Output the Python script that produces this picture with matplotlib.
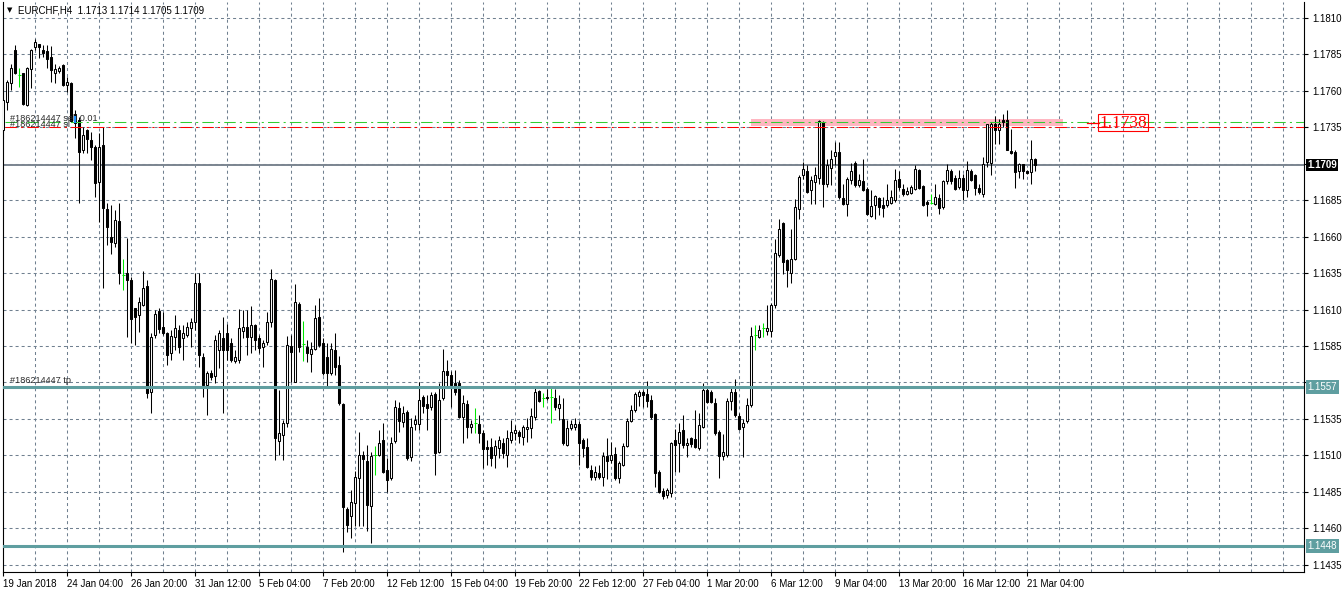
import matplotlib.pyplot as plt
from matplotlib.patches import Rectangle

plt.rcParams['font.family'] = ['Liberation Sans', 'DejaVu Sans']

# EURCHF H4 candles, bar 0 = 19 Jan 2018 12:00
opens = [
    1.17330, 1.17525, 1.17656, 1.17880, 1.17708, 1.17720, 1.17502, 1.17747, 1.17898, 1.17921,
    1.17884, 1.17875, 1.17834, 1.17724, 1.17738, 1.17777, 1.17640, 1.17651, 1.17440, 1.17399,
    1.17198, 1.17331, 1.17262, 1.17212, 1.16976, 1.17228, 1.16789, 1.16599, 1.16560, 1.16706,
    1.16336, 1.16350, 1.16301, 1.16109, 1.16061, 1.16130, 1.16260, 1.15537, 1.15926, 1.16090,
    1.15981, 1.15940, 1.15800, 1.15910, 1.15960, 1.15903, 1.15926, 1.15972, 1.16017, 1.16280,
    1.15777, 1.15583, 1.15663, 1.15645, 1.15823, 1.15905, 1.15942, 1.15871, 1.15750, 1.15754,
    1.15955, 1.15979, 1.15910, 1.15994, 1.15903, 1.15846, 1.15880, 1.16017, 1.16303, 1.15201,
    1.15240, 1.15320, 1.15850, 1.15606, 1.16138, 1.15862, 1.15846, 1.15793, 1.15830, 1.16047,
    1.15869, 1.15777, 1.15667, 1.15823, 1.15720, 1.15453, 1.14730, 1.14681, 1.14772, 1.14944,
    1.15103, 1.15058, 1.14754, 1.15103, 1.15103, 1.15206, 1.15001, 1.14944, 1.15202, 1.15423,
    1.15332, 1.15400, 1.15090, 1.15316, 1.15316, 1.15503, 1.15453, 1.15434, 1.15521, 1.15126,
    1.15492, 1.15681, 1.15651, 1.15599, 1.15599, 1.15361, 1.15453, 1.15298, 1.15320, 1.15313,
    1.15252, 1.15156, 1.15160, 1.15103, 1.15149, 1.15188, 1.15103, 1.15206, 1.15256, 1.15263,
    1.15229, 1.15279, 1.15286, 1.15361, 1.15542, 1.15492, 1.15503, 1.15503, 1.15492, 1.15423,
    1.15348, 1.15172, 1.15286, 1.15298, 1.15316, 1.15206, 1.15160, 1.15001, 1.14950, 1.14982,
    1.14955, 1.15097, 1.15069, 1.15110, 1.14944, 1.15035, 1.15165, 1.15339, 1.15412, 1.15508,
    1.15537, 1.15521, 1.15480, 1.15384, 1.14989, 1.14859, 1.14830, 1.14841, 1.15206, 1.15183,
    1.15275, 1.15172, 1.15218, 1.15211, 1.15149, 1.15298, 1.15549, 1.15537, 1.15462, 1.15263,
    1.15097, 1.15103, 1.15476, 1.15537, 1.15371, 1.15293, 1.15339, 1.15446, 1.15925, 1.15914,
    1.15971, 1.15955, 1.15955, 1.16131, 1.16473, 1.16695, 1.16439, 1.16348, 1.16450, 1.16793,
    1.17021, 1.17051, 1.16918, 1.16976, 1.17005, 1.17386, 1.16960, 1.17074, 1.17151, 1.17181,
    1.16868, 1.16827, 1.16987, 1.17106, 1.16953, 1.16982, 1.16930, 1.16740, 1.16816, 1.16868,
    1.16816, 1.16816, 1.16832, 1.16850, 1.16998, 1.16930, 1.16896, 1.16900, 1.16930, 1.17055,
    1.16946, 1.16836, 1.16832, 1.16827, 1.16868, 1.16804, 1.16982, 1.17051, 1.17005, 1.16941,
    1.17005, 1.16923, 1.17051, 1.17021, 1.16937, 1.16891, 1.17113, 1.17106, 1.17371, 1.17334,
    1.17398, 1.17402, 1.17188, 1.17181, 1.17051, 1.17097, 1.17051, 1.17044, 1.17130,
]
highs = [
    1.17628, 1.17678, 1.17788, 1.17914, 1.17754, 1.17724, 1.17761, 1.17891, 1.17953, 1.17925,
    1.17914, 1.17914, 1.17907, 1.17788, 1.17770, 1.17788, 1.17697, 1.17662, 1.17470, 1.17422,
    1.17353, 1.17342, 1.17319, 1.17228, 1.17308, 1.17353, 1.16828, 1.16817, 1.16782, 1.16832,
    1.16444, 1.16590, 1.16324, 1.16111, 1.16187, 1.16366, 1.16300, 1.15940, 1.16097, 1.16111,
    1.16086, 1.15948, 1.15960, 1.16063, 1.15994, 1.15994, 1.16017, 1.16040, 1.16353, 1.16353,
    1.15800, 1.15681, 1.15688, 1.15926, 1.15960, 1.16051, 1.16000, 1.15905, 1.15823, 1.16104,
    1.16097, 1.16097, 1.16125, 1.16001, 1.15926, 1.15892, 1.16086, 1.16376, 1.16308, 1.15549,
    1.15343, 1.15919, 1.15926, 1.16273, 1.16154, 1.16024, 1.15892, 1.15880, 1.16132, 1.16177,
    1.15903, 1.15869, 1.15873, 1.15937, 1.15782, 1.15457, 1.14748, 1.14864, 1.14990, 1.15263,
    1.15133, 1.15172, 1.15126, 1.15165, 1.15275, 1.15320, 1.15081, 1.15229, 1.15480, 1.15469,
    1.15439, 1.15412, 1.15355, 1.15377, 1.15606, 1.15514, 1.15514, 1.15537, 1.15537, 1.15594,
    1.15827, 1.15754, 1.15681, 1.15686, 1.15617, 1.15514, 1.15480, 1.15343, 1.15423, 1.15377,
    1.15275, 1.15206, 1.15218, 1.15206, 1.15234, 1.15218, 1.15275, 1.15343, 1.15309, 1.15275,
    1.15309, 1.15355, 1.15423, 1.15571, 1.15549, 1.15526, 1.15553, 1.15560, 1.15553, 1.15514,
    1.15492, 1.15343, 1.15343, 1.15355, 1.15339, 1.15218, 1.15218, 1.15035, 1.15024, 1.15035,
    1.15126, 1.15218, 1.15195, 1.15160, 1.15058, 1.15183, 1.15355, 1.15446, 1.15537, 1.15549,
    1.15549, 1.15612, 1.15514, 1.15393, 1.15001, 1.14875, 1.14875, 1.15195, 1.15280, 1.15320,
    1.15377, 1.15218, 1.15229, 1.15412, 1.15389, 1.15599, 1.15571, 1.15549, 1.15492, 1.15275,
    1.15247, 1.15492, 1.15576, 1.15622, 1.15389, 1.15348, 1.15492, 1.15978, 1.15994, 1.15994,
    1.16005, 1.16131, 1.16142, 1.16581, 1.16724, 1.16702, 1.16450, 1.16656, 1.16861, 1.17021,
    1.17113, 1.17090, 1.17014, 1.17078, 1.17402, 1.17393, 1.17135, 1.17192, 1.17249, 1.17249,
    1.16964, 1.17010, 1.17106, 1.17119, 1.17028, 1.17135, 1.16941, 1.16918, 1.16884, 1.16873,
    1.16873, 1.16960, 1.16918, 1.17067, 1.17051, 1.16960, 1.16941, 1.16953, 1.17090, 1.17067,
    1.16953, 1.16850, 1.16891, 1.16960, 1.16896, 1.16992, 1.17097, 1.17067, 1.17021, 1.17055,
    1.17033, 1.17119, 1.17067, 1.17033, 1.16964, 1.17147, 1.17375, 1.17386, 1.17425, 1.17409,
    1.17439, 1.17466, 1.17340, 1.17192, 1.17106, 1.17101, 1.17055, 1.17266, 1.17140,
]
lows = [
    1.17280, 1.17468, 1.17605, 1.17715, 1.17624, 1.17502, 1.17495, 1.17617, 1.17884, 1.17823,
    1.17834, 1.17754, 1.17662, 1.17651, 1.17720, 1.17633, 1.17595, 1.17388, 1.17280, 1.16828,
    1.17171, 1.17171, 1.17124, 1.16873, 1.16701, 1.16251, 1.16545, 1.16484, 1.16530, 1.16276,
    1.16237, 1.15913, 1.15868, 1.15856, 1.15947, 1.16123, 1.15492, 1.15391, 1.15905, 1.15942,
    1.15926, 1.15720, 1.15754, 1.15823, 1.15802, 1.15754, 1.15914, 1.15846, 1.15960, 1.15708,
    1.15503, 1.15375, 1.15617, 1.15595, 1.15699, 1.15394, 1.15754, 1.15740, 1.15736, 1.15734,
    1.15905, 1.15789, 1.15802, 1.15823, 1.15802, 1.15708, 1.15857, 1.15983, 1.15068, 1.15103,
    1.15068, 1.15297, 1.15606, 1.15600, 1.15811, 1.15750, 1.15743, 1.15674, 1.15823, 1.15846,
    1.15654, 1.15560, 1.15651, 1.15651, 1.15443, 1.14440, 1.14577, 1.14533, 1.14613, 1.14613,
    1.14613, 1.14578, 1.14499, 1.14966, 1.15097, 1.14978, 1.14852, 1.14932, 1.15188, 1.15263,
    1.15298, 1.15065, 1.15058, 1.15275, 1.15275, 1.15389, 1.15275, 1.15412, 1.14966, 1.15115,
    1.15480, 1.15560, 1.15434, 1.15514, 1.15355, 1.15183, 1.15218, 1.15252, 1.15252, 1.15183,
    1.15012, 1.15035, 1.15024, 1.15012, 1.15081, 1.15081, 1.15019, 1.15183, 1.15206, 1.15188,
    1.15172, 1.15195, 1.15218, 1.15343, 1.15469, 1.15430, 1.15480, 1.15320, 1.15412, 1.15343,
    1.15172, 1.15165, 1.15275, 1.15275, 1.15035, 1.15092, 1.15012, 1.14932, 1.14932, 1.14937,
    1.14887, 1.14937, 1.15046, 1.14928, 1.14909, 1.15024, 1.15160, 1.15332, 1.15400, 1.15439,
    1.15430, 1.15430, 1.15348, 1.14882, 1.14841, 1.14800, 1.14807, 1.14814, 1.14989, 1.14989,
    1.15149, 1.15092, 1.15160, 1.15149, 1.15138, 1.15286, 1.15457, 1.15457, 1.15240, 1.14944,
    1.15065, 1.15092, 1.15412, 1.15361, 1.15275, 1.15092, 1.15320, 1.15434, 1.15823, 1.15903,
    1.15909, 1.15925, 1.15914, 1.16108, 1.16462, 1.16343, 1.16256, 1.16284, 1.16439, 1.16724,
    1.16998, 1.16900, 1.16827, 1.16827, 1.16960, 1.16804, 1.16941, 1.16953, 1.17090, 1.16861,
    1.16816, 1.16740, 1.16960, 1.16941, 1.16941, 1.16914, 1.16747, 1.16736, 1.16724, 1.16747,
    1.16736, 1.16804, 1.16827, 1.16839, 1.16923, 1.16877, 1.16884, 1.16896, 1.16918, 1.16930,
    1.16809, 1.16740, 1.16823, 1.16816, 1.16759, 1.16793, 1.16964, 1.16964, 1.16923, 1.16930,
    1.16850, 1.16873, 1.16982, 1.16884, 1.16896, 1.16873, 1.17078, 1.17021, 1.17238, 1.17238,
    1.17352, 1.17192, 1.17170, 1.16937, 1.17005, 1.16998, 1.17033, 1.16964, 1.17050,
]
closes = [
    1.17537, 1.17662, 1.17754, 1.17720, 1.17708, 1.17510, 1.17754, 1.17884, 1.17937, 1.17898,
    1.17857, 1.17816, 1.17743, 1.17747, 1.17754, 1.17640, 1.17658, 1.17395, 1.17380, 1.17182,
    1.17296, 1.17267, 1.17216, 1.16965, 1.17216, 1.16798, 1.16667, 1.16565, 1.16718, 1.16350,
    1.16336, 1.16306, 1.16038, 1.16048, 1.16153, 1.16251, 1.15526, 1.15914, 1.16070, 1.15965,
    1.15940, 1.15789, 1.15919, 1.15972, 1.15846, 1.15937, 1.15979, 1.16017, 1.16280, 1.15789,
    1.15583, 1.15667, 1.15640, 1.15892, 1.15937, 1.15823, 1.15823, 1.15754, 1.15775, 1.15972,
    1.15983, 1.15910, 1.15994, 1.15892, 1.15835, 1.15869, 1.16017, 1.16308, 1.15217, 1.15252,
    1.15320, 1.15857, 1.15811, 1.16150, 1.15846, 1.15862, 1.15800, 1.15830, 1.16040, 1.15857,
    1.15667, 1.15663, 1.15828, 1.15708, 1.15457, 1.14744, 1.14623, 1.14777, 1.14955, 1.15103,
    1.15074, 1.14761, 1.15097, 1.15103, 1.15188, 1.14989, 1.14932, 1.15188, 1.15430, 1.15339,
    1.15393, 1.15081, 1.15298, 1.15343, 1.15480, 1.15439, 1.15423, 1.15514, 1.15119, 1.15480,
    1.15681, 1.15651, 1.15583, 1.15537, 1.15361, 1.15457, 1.15298, 1.15316, 1.15320, 1.15256,
    1.15142, 1.15142, 1.15081, 1.15165, 1.15206, 1.15119, 1.15218, 1.15263, 1.15275, 1.15234,
    1.15298, 1.15298, 1.15371, 1.15537, 1.15476, 1.15492, 1.15492, 1.15503, 1.15430, 1.15453,
    1.15183, 1.15286, 1.15316, 1.15316, 1.15188, 1.15149, 1.15019, 1.14955, 1.14989, 1.14950,
    1.15097, 1.15058, 1.15103, 1.14944, 1.15046, 1.15165, 1.15339, 1.15412, 1.15521, 1.15537,
    1.15514, 1.15476, 1.15361, 1.14982, 1.14852, 1.14818, 1.14864, 1.15188, 1.15172, 1.15263,
    1.15172, 1.15188, 1.15179, 1.15156, 1.15309, 1.15549, 1.15469, 1.15469, 1.15252, 1.15097,
    1.15126, 1.15476, 1.15537, 1.15377, 1.15280, 1.15320, 1.15446, 1.15918, 1.15925, 1.15960,
    1.15971, 1.15971, 1.16131, 1.16485, 1.16656, 1.16428, 1.16371, 1.16450, 1.16804, 1.17010,
    1.17067, 1.16907, 1.16987, 1.17021, 1.17393, 1.16960, 1.17090, 1.17135, 1.17181, 1.16873,
    1.16823, 1.16998, 1.17051, 1.16953, 1.16987, 1.16918, 1.16759, 1.16809, 1.16877, 1.16804,
    1.16800, 1.16855, 1.16873, 1.16987, 1.16941, 1.16891, 1.16912, 1.16941, 1.17067, 1.16937,
    1.16816, 1.16827, 1.16832, 1.16873, 1.16800, 1.16982, 1.17055, 1.16982, 1.16930, 1.17005,
    1.16918, 1.17055, 1.16992, 1.16937, 1.16907, 1.17097, 1.17371, 1.17371, 1.17334, 1.17375,
    1.17387, 1.17197, 1.17174, 1.17044, 1.17097, 1.17051, 1.17037, 1.17135, 1.17090,
]

date_bars = [0, 16, 32, 48, 64, 80, 96, 112, 128, 144, 160, 176, 192, 208, 224, 240, 256]
date_labels = ['19 Jan 2018', '24 Jan 04:00', '26 Jan 20:00', '31 Jan 12:00',
               '5 Feb 04:00', '7 Feb 20:00', '12 Feb 12:00', '15 Feb 04:00',
               '19 Feb 20:00', '22 Feb 12:00', '27 Feb 04:00', '1 Mar 20:00',
               '6 Mar 12:00', '9 Mar 04:00', '13 Mar 20:00', '16 Mar 12:00',
               '21 Mar 04:00']
price_ticks = [1.1435, 1.1460, 1.1485, 1.1510, 1.1535, 1.1560, 1.1585, 1.1610,
               1.1635, 1.1660, 1.1685, 1.1710, 1.1735, 1.1760, 1.1785, 1.1810]
hidden_ticks = [1.1560, 1.1710]

bid = 1.1709
levels = [1.1557, 1.1448]
order_price = 1.1739
sl_price = 1.1735
zone_low, zone_high = 1.17359, 1.17407
zone_from, zone_to = 187, 265
arrow_price = 1.1738

grid_c = '#708090'
teal = '#5f9ea0'

fig = plt.figure(figsize=(13.44, 5.93), dpi=100)
ax = fig.add_axes([3 / 1344, 21 / 593, 1301 / 1344, 570 / 593])
ax.set_xlim(-0.075, 325.175)
ax.set_ylim(1.14300, 1.18210)

# grid
for p in price_ticks:
    ax.axhline(p, color=grid_c, lw=0.75, ls=(0, (2.9, 2.9)), zorder=1)
for b in range(8, 325, 8):
    ax.axvline(b, color=grid_c, lw=0.75, ls=(0, (2.9, 2.9)), zorder=1)

# candles
n = len(opens)
for i in range(n):
    o, h, l, c = opens[i], highs[i], lows[i], closes[i]
    if o == c:
        ax.vlines(i, l, h, color='#00e600', lw=0.75, zorder=3)
        ax.hlines(o, i - 0.4, i + 0.4, color='#00e600', lw=0.75, zorder=3)
        continue
    ax.vlines(i, l, h, color='black', lw=0.75, zorder=2)
    fc = 'white' if c > o else 'black'
    ax.add_patch(Rectangle((i - 0.26, min(o, c)), 0.52, abs(c - o),
                           fc=fc, ec='black', lw=0.75, zorder=3))

# objects
ax.add_patch(Rectangle((zone_from, zone_low), zone_to - zone_from,
                       zone_high - zone_low, fc='#ffb6c1', ec='none', zorder=1.5))
ax.axhline(bid, color='#7b8590', lw=1.4, zorder=1.6)
for lv in levels:
    ax.axhline(lv, color=teal, lw=2.2, zorder=4)
ax.plot([0.4, 325.2], [order_price, order_price], color='#32cd32', lw=0.75,
        ls=(0, (11, 4, 2, 4)), zorder=4)
ax.plot([0.4, 325.2], [sl_price, sl_price], color='#ff0000', lw=0.75,
        ls=(0, (11, 4, 2, 4)), zorder=4)

ax.plot([271, 273.8], [arrow_price + 0.00003, arrow_price + 0.00003],
        color='red', lw=0.9, zorder=5)
ax.text(274.0, arrow_price + 0.00003, '1.1738', color='red', fontsize=12.5,
        family=['Liberation Serif', 'DejaVu Serif'], ha='left', va='center',
        zorder=6,
        bbox=dict(boxstyle='square,pad=0.05', fc='none', ec='red', lw=0.8))

# trade labels (they sit on top of each other in the terminal too)
lbl = dict(fontsize=6.6, color='#2b2b2b', ha='left', va='center', zorder=6)
ax.text(1.7, 1.17412, '#186214447 sell 0.01', **lbl)
ax.text(1.7, 1.17368, '#186214447 sl', **lbl)
ax.text(1.7, 1.15611, '#186214447 tp', **lbl)
ax.vlines(17.9, 1.17380, 1.17430, color='#1e90ff', lw=1.6, zorder=7)

# axes look
for side in ('left', 'right', 'bottom'):
    ax.spines[side].set_color('black')
    ax.spines[side].set_linewidth(0.8)
ax.spines['top'].set_visible(False)

ax.yaxis.tick_right()
ax.set_yticks(price_ticks)
ax.set_yticklabels(['' if p in hidden_ticks else '{:.4f}'.format(p)
                    for p in price_ticks])
ax.tick_params(axis='y', direction='out', length=3, width=0.8, pad=3,
               labelsize=7)
ax.set_xticks(date_bars)
ax.set_xticklabels(date_labels, ha='left')
ax.tick_params(axis='x', direction='out', length=3, width=0.8, pad=2,
               labelsize=7)

box = dict(fontsize=7, color='white', ha='left', va='center', zorder=10,
           transform=ax.get_yaxis_transform(), clip_on=False)
ax.text(1.0025, bid, '1.1709', fontweight='bold',
        bbox=dict(boxstyle='square,pad=0.12', fc='black', ec='none'), **box)
for lv in levels:
    ax.text(1.0025, lv, '{:.4f}'.format(lv),
            bbox=dict(boxstyle='square,pad=0.18', fc=teal, ec='none'), **box)

# header
fig.text(9.5 / 1344, 1 - 10.5 / 593, '\u25bc', fontsize=5, ha='center',
         va='center', family='DejaVu Sans')
fig.text(18 / 1344, 1 - 10.5 / 593,
         'EURCHF,H4  {:.4f} {:.4f} {:.4f} {:.4f}'.format(
             opens[-1], highs[-1], lows[-1], closes[-1]),
         fontsize=7, ha='left', va='center')

fig.savefig('out.png', dpi=100)
plt.close(fig)
